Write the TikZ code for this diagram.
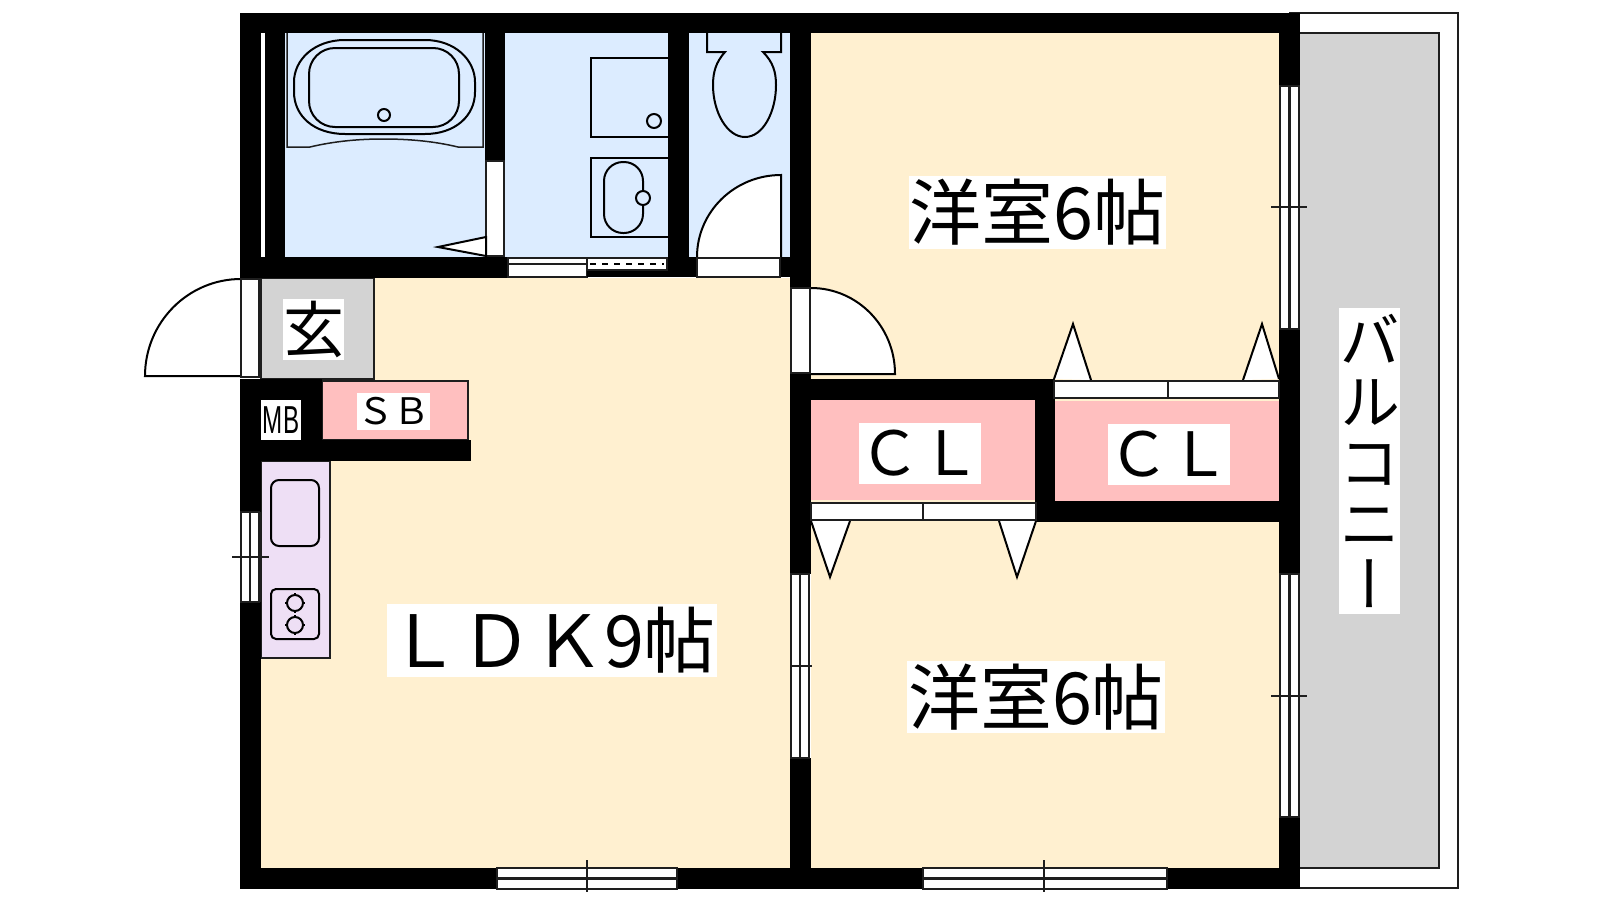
\documentclass[tikz,border=0pt]{standalone}
\usepackage{fontspec}
\newfontfamily\jp{Noto Sans CJK JP}
\newfontfamily\jpv[RawFeature={+vert}]{Noto Sans CJK JP}
\newfontfamily\narrowf[FakeStretch=0.62]{Liberation Sans}
\definecolor{wetblue}{RGB}{220,236,255}
\definecolor{cream}{RGB}{255,240,208}
\definecolor{pinkroom}{RGB}{255,191,191}
\definecolor{grayroom}{RGB}{211,211,211}
\definecolor{lilac}{RGB}{238,223,245}
\definecolor{edge}{RGB}{30,30,30}
\tikzset{
  wall/.style={fill=black,draw=none},
  floorblue/.style={fill=wetblue,draw=none},
  floorcream/.style={fill=cream,draw=none},
  floorpink/.style={fill=pinkroom,draw=none},
  floorgray/.style={fill=grayroom,draw=none},
  frame/.style={fill=white,draw=edge,line width=1.1pt},
  fixture/.style={draw=black,line width=1pt},
  doorleaf/.style={fill=white,draw=black,line width=1pt},
  thin line/.style={draw=edge,line width=1.1pt},
  labelbox/.style={fill=white,draw=none,inner sep=0pt,outer sep=0pt,align=center,text=black},
}
\begin{document}
\begin{tikzpicture}[x=0.5pt,y=-0.5pt]
\useasboundingbox (0,0) rectangle (1600,900);
% balcony
\draw[fill=white,draw=edge,line width=0.8pt] (1290,13) rectangle (1458,888);
\draw[fill=grayroom,draw=edge,line width=0.8pt] (1290,33) rectangle (1439,868);
% floors
\fill[floorcream] (261,278) rectangle (790,868);
\fill[floorcream] (811,33) rectangle (1279,868);
\fill[floorblue] (285,33) rectangle (485,257);
\fill[floorblue] (505,33) rectangle (668,257);
\fill[floorblue] (689,33) rectangle (790,257);
\fill[floorpink] (811,400) rectangle (1035,500);
\fill[floorpink] (1055,401) rectangle (1279,501);
% genkan
\draw[fill=grayroom,draw=edge,line width=0.75pt] (261,278) -- (374,278) -- (374,379) -- (261,379) -- cycle;
% shoe box
\draw[fill=pinkroom,draw=edge,line width=0.75pt] (322,381) rectangle (468,440);
% kitchen
\draw[fill=lilac,draw=edge,line width=0.75pt] (261,461) rectangle (330,658);
\draw[fixture,rounded corners=4pt] (271,480) rectangle (319,546);
\draw[fixture,rounded corners=2.5pt] (271,589) rectangle (319,639);
\foreach \cy in {603,625}{
  \draw[fixture] (295,\cy) circle[radius=8];
  \draw[draw=black,line width=0.8pt] (295,\cy-10) -- (295,\cy-7) (295,\cy+7) -- (295,\cy+10) (285,\cy) -- (288,\cy) (302,\cy) -- (305,\cy);
}
% outer and inner walls
\fill[wall] (240,13) rectangle (1300,33);
\fill[wall] (240,868) rectangle (1300,889);
\fill[wall] (240,13) rectangle (261,278);
\fill[white] (261,33) rectangle (265,257);
\fill[wall] (265,33) rectangle (285,257);
\fill[wall] (240,257) rectangle (508,278);
\fill[wall] (485,33) rectangle (505,161);
\fill[wall] (668,33) rectangle (689,277);
\fill[wall] (667,257) rectangle (697,277);
\fill[wall] (780,257) rectangle (790,277);
\fill[wall] (790,33) rectangle (811,288);
\fill[wall] (240,379) rectangle (322,461);
\fill[wall] (240,440) rectangle (471,461);
\fill[wall] (240,461) rectangle (261,512);
\fill[wall] (240,602) rectangle (261,868);
\fill[wall] (790,374) rectangle (811,574);
\fill[wall] (790,758) rectangle (811,868);
\fill[wall] (790,379) rectangle (1055,400);
\fill[wall] (1035,379) rectangle (1055,522);
\fill[wall] (1035,501) rectangle (1300,522);
\fill[wall] (1279,13) rectangle (1300,86);
\fill[wall] (1279,329) rectangle (1300,574);
\fill[wall] (1279,817) rectangle (1300,889);
% bath tub
\draw[draw=edge,line width=0.75pt] (287,33) -- (287,147) -- (310,147) .. controls (335,141) and (360,139) .. (383,139) .. controls (408,139) and (433,141) .. (458,147) -- (483,147) -- (483,33);
\draw[fixture] (345,40) -- (425,40) .. controls (455,40) and (475,60) .. (475,82) -- (475,92) .. controls (475,116) and (455,134) .. (425,134) -- (345,134) .. controls (314,134) and (294,116) .. (294,92) -- (294,82) .. controls (294,60) and (314,40) .. (345,40) -- cycle;
\draw[fixture,rounded corners=13pt] (309,48) rectangle (459,127);
\draw[fixture] (384,115) circle[radius=6];
% bathroom door
\draw[frame] (486,161) rectangle (504,256);
\draw[doorleaf] (486,237) -- (438,247) -- (486,256) -- cycle;
% washroom fixtures
\draw[fixture] (668,58) -- (591,58) -- (591,137) -- (668,137);
\draw[fixture] (654,121) circle[radius=7];
\draw[fixture] (668,158) -- (591,158) -- (591,237) -- (668,237);
\draw[fixture,rounded corners=9.5pt] (604,162) rectangle (643,233);
\draw[fixture,fill=wetblue] (643,198) circle[radius=7];
% toilet
\draw[fixture] (707,33) -- (707,52) -- (725,52) .. controls (716,62) and (713,72) .. (713,85) .. controls (713,112) and (727,137) .. (745,137) .. controls (763,137) and (776,112) .. (776,85) .. controls (776,72) and (773,62) .. (763,52) -- (781,52) -- (781,33);
% toilet door
\draw[doorleaf] (697,257) arc[start angle=180,end angle=270,x radius=84,y radius=82] -- (781,257);
\draw[frame] (697,258) rectangle (780,277);
% wash room sliding door
\draw[frame] (508,258) rectangle (587,277);
\draw[thin line] (508,264) -- (587,264);
\draw[frame] (587,258) rectangle (667,270);
\draw[draw=black,line width=0.9pt,dash pattern=on 3pt off 3pt] (590,264) -- (664,264);
\fill[wall] (587,270.5) rectangle (667,277);
% entrance door
\draw[doorleaf] (241,279) arc[start angle=270,end angle=180,x radius=96,y radius=97] -- (241,376);
\draw[frame] (241,279) rectangle (259,377);
% LDK door
\draw[doorleaf] (811,288) arc[start angle=-90,end angle=0,x radius=84,y radius=86] -- (811,374);
\draw[frame] (791,288) rectangle (810,373);
% closet doors
\draw[frame] (811,503) rectangle (1036,520);
\draw[thin line] (923,503) -- (923,520);
\draw[doorleaf] (811,521) -- (830,577) -- (850,521);
\draw[doorleaf] (999,521) -- (1017,577) -- (1036,521);
\draw[frame] (1054,381) rectangle (1279,398);
\draw[thin line] (1168,381) -- (1168,398);
\draw[doorleaf] (1054,379) -- (1073,324) -- (1091,380);
\draw[doorleaf] (1243,380) -- (1262,324) -- (1279,379);
% windows
\draw[frame] (241,512) rectangle (259,602);
\draw[thin line] (250,512) -- (250,602);
\draw[thin line] (232,557) -- (269,557);
\draw[frame] (1280,86) rectangle (1299,329);
\draw[thin line] (1289.5,86) -- (1289.5,329);
\draw[thin line] (1271,207) -- (1307,207);
\draw[frame] (1280,574) rectangle (1299,817);
\draw[thin line] (1289.5,574) -- (1289.5,817);
\draw[thin line] (1271,696) -- (1307,696);
\draw[frame] (791,574) rectangle (809,758);
\draw[thin line] (800,574) -- (800,758);
\draw[thin line] (791,666) -- (812,666);
\draw[frame] (497,868) rectangle (677,889);
\draw[thin line] (497,878.5) -- (677,878.5);
\draw[thin line] (587,860) -- (587,892);
\draw[frame] (923,868) rectangle (1167,889);
\draw[thin line] (923,878.5) -- (1167,878.5);
\draw[thin line] (1044,860) -- (1044,892);
% labels
\node[labelbox,minimum width=128.5pt,minimum height=36.5pt,font=\jp\fontsize{36}{36}\selectfont] (room-a) at (1037.5,212.5) {洋室6帖};
\node[labelbox,minimum width=129pt,minimum height=36pt,font=\jp\fontsize{36}{36}\selectfont] (room-b) at (1036,697) {洋室6帖};
\node[labelbox,minimum width=165pt,minimum height=36.5pt,font=\jp\fontsize{36}{36}\selectfont] (room-ldk) at (552,640.5) {ＬＤＫ9帖};
\node[labelbox,minimum width=61pt,minimum height=30.5pt,font=\jp\fontsize{30.5}{30.5}\selectfont] (closet-a) at (920,453.5) {ＣＬ};
\node[labelbox,minimum width=61pt,minimum height=30.5pt,font=\jp\fontsize{30.5}{30.5}\selectfont] (closet-b) at (1169,454.5) {ＣＬ};
\node[labelbox,minimum width=36.5pt,minimum height=18.5pt,font=\jp\fontsize{18.25}{18.25}\selectfont] (shoe) at (393.5,411.5) {ＳＢ};
\node[labelbox,minimum width=30.5pt,minimum height=30.5pt,font=\jp\fontsize{30.5}{30.5}\selectfont] (entry) at (313.5,329.5) {玄};
\node[labelbox,minimum width=20pt,minimum height=20pt,font=\narrowf\fontsize{19.5}{19.5}\selectfont] (meter) at (281,420) {MB};
\node[labelbox,minimum width=30.5pt,minimum height=153pt,font=\jpv\fontsize{30.5}{30.6}\selectfont] (balcony) at (1369.5,461) {バ\\ル\\コ\\ニ\\ー};
\end{tikzpicture}
\end{document}
